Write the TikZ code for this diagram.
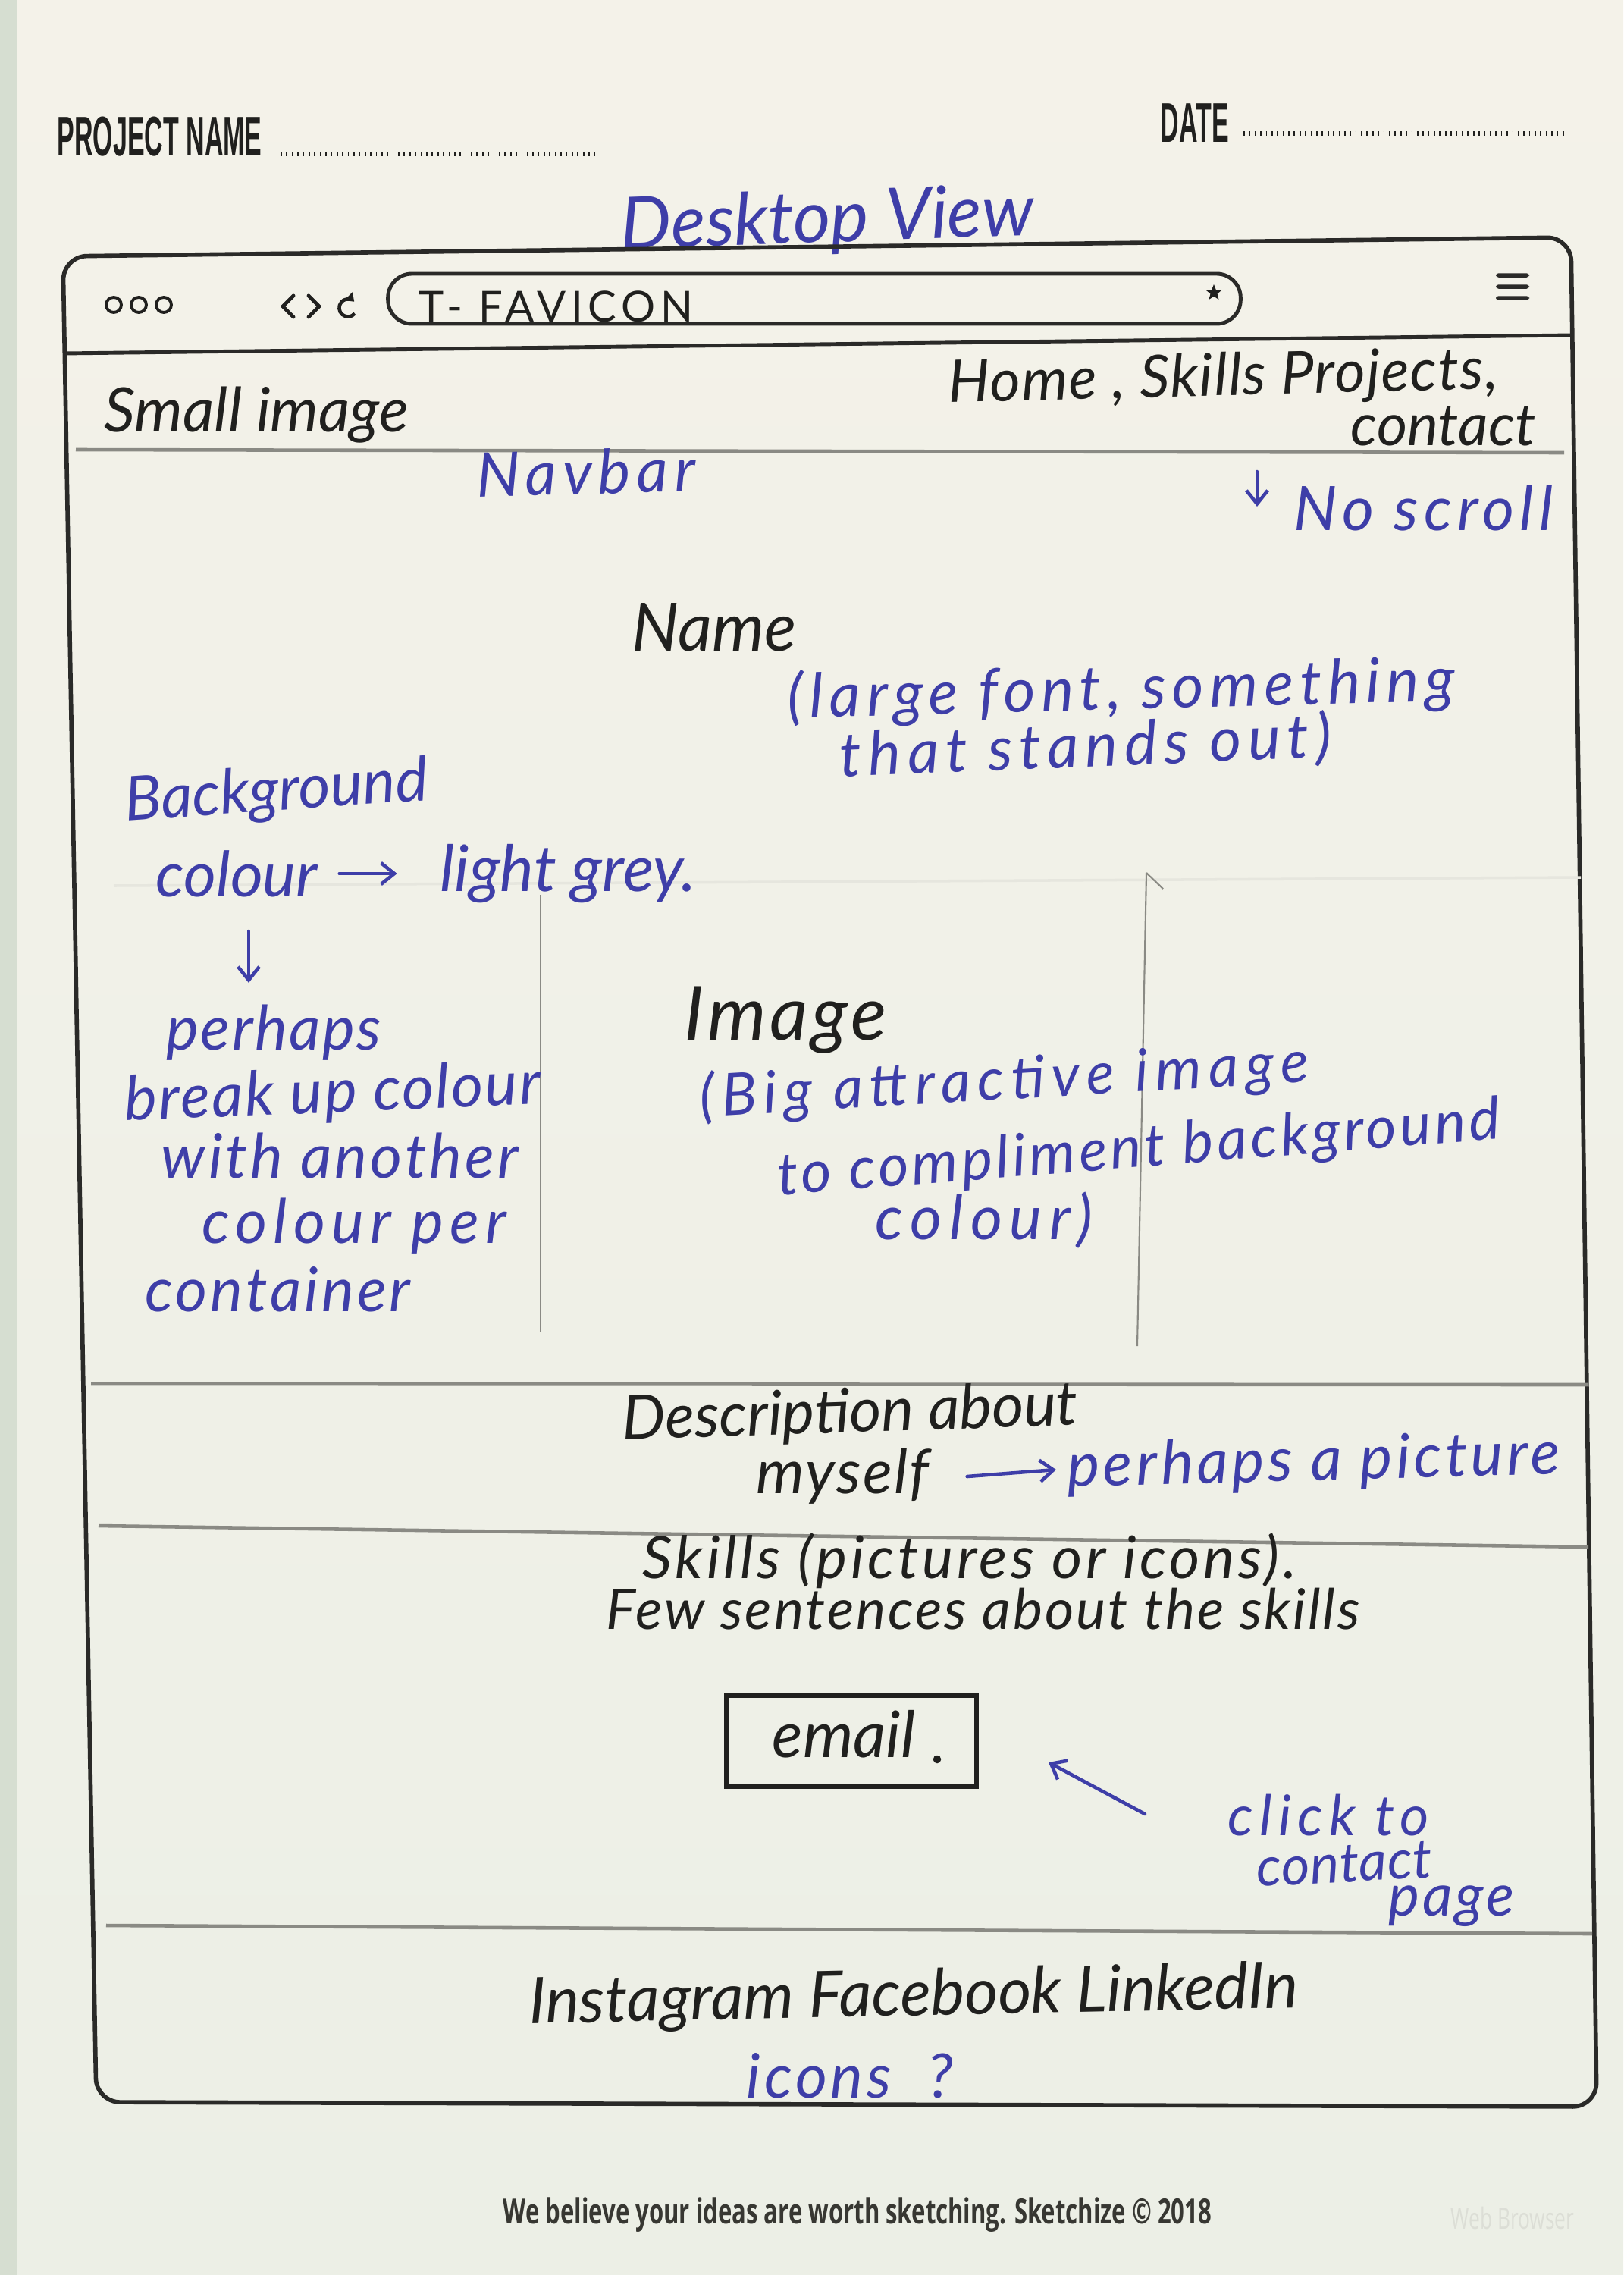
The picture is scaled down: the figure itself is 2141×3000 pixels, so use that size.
\documentclass[tikz,border=0pt]{standalone}
\usepackage{fontspec}
\usetikzlibrary{arrows.meta,shapes.geometric}
\newfontfamily\handfont{Lato}
\newfontfamily\headfont{Liberation Sans}[FakeStretch=0.46]
\newfontfamily\footfont{Open Sans}[FakeStretch=0.68]
% handwriting: size, and size with letter spacing
\newcommand\hwsz[1]{\handfont\itshape\fontsize{#1}{#1}\selectfont}
\newcommand\hwls[2]{\handfont\itshape\fontsize{#1}{#1}\selectfont\addfontfeature{LetterSpace=#2}}
\definecolor{paperTop}{RGB}{244,242,233}
\definecolor{paperBot}{RGB}{236,239,230}
\definecolor{paperEdge}{RGB}{214,222,209}
\definecolor{inkblue}{RGB}{62,62,168}
\definecolor{inkblack}{RGB}{32,32,30}
\definecolor{frameink}{RGB}{42,42,40}
\definecolor{rule}{RGB}{138,138,132}
\definecolor{faint}{RGB}{230,230,222}
\definecolor{footink}{RGB}{55,55,50}
\definecolor{ghost}{RGB}{220,222,214}
\tikzset{
  pen/.style={inner sep=0pt, anchor=west, text=inkblack},
  bluepen/.style={inner sep=0pt, anchor=west, text=inkblue},
  frameline/.style={draw=frameink, line width=1.6pt},
  divider/.style={draw=rule, line width=1.3pt},
  guide/.style={draw=rule, line width=0.6pt},
  bluearrow/.style={draw=inkblue, line width=1.3pt, line cap=round, -{Straight Barb[length=5pt,width=8pt]}},
  dotrule/.style={draw=inkblack, line width=1.6pt, dash pattern=on 0.5pt off 1.6pt},
}
\begin{document}
\begin{tikzpicture}[x=0.01cm, y=-0.01cm]
\useasboundingbox (0,0) rectangle (2141,3000);
% paper
\shade[top color=paperTop, bottom color=paperBot] (0,0) rectangle (2141,3000);
\fill[paperEdge] (0,0) rectangle (22,3000);

% sheet header
\node[inner sep=0pt, anchor=west, text=inkblack, font=\headfont\bfseries\fontsize{21}{21}\selectfont] (projname) at (75,180) {PROJECT NAME};
\coordinate (pn-a) at (370,203);
\coordinate (pn-b) at (786,203);
\draw[dotrule] (pn-a) -- (pn-b);
\node[inner sep=0pt, anchor=west, text=inkblack, font=\headfont\bfseries\fontsize{21}{21}\selectfont] (datelbl) at (1530,162) {DATE};
\coordinate (dt-a) at (1640,176);
\coordinate (dt-b) at (2063,176);
\draw[dotrule] (dt-a) -- (dt-b);

\node[bluepen, font=\hwsz{27}, rotate=2] (title) at (818,302) {Desktop View};

% browser window
\draw[frameline, rounded corners=9pt] (83,338) -- (2072,313) -- (2106,2778) -- (127,2772) -- cycle;
\coordinate (tb-l) at (84,466);
\coordinate (tb-r) at (2072,442);
\draw[frameline, line width=1.4pt] (tb-l) -- (tb-r);

% toolbar
\foreach \cx/\nm in {150/dot1,183/dot2,216/dot3}
  \node[draw=inkblack, line width=1.1pt, circle, minimum size=0.2cm, inner sep=0pt] (\nm) at (\cx,402) {};
\draw[inkblack, line width=1.4pt, line cap=round, line join=round] (387,390) -- (373,404) -- (387,418);
\draw[inkblack, line width=1.4pt, line cap=round, line join=round] (407,390) -- (421,404) -- (407,418);
\draw[inkblack, line width=1.3pt, -{Triangle[length=3pt,width=4pt]}] (459,406) ++(-40:3.3pt) arc[start angle=-40, end angle=-315, radius=3.3pt];
\node[draw=frameink, line width=1.4pt, rounded corners=9pt, minimum width=11.24cm, minimum height=0.66cm, inner sep=0pt] (urlbar) at (1074,394) {};
\node[pen, font=\handfont\fontsize{16}{16}\selectfont\addfontfeature{LetterSpace=12}] (favicon) at (552,404) {T- FAVICON};
\node[star, star points=5, star point ratio=2.3, fill=inkblack, inner sep=0pt, minimum size=0.22cm] (bookmark) at (1601,386) {};
\foreach \yy/\nm in {363/hb1,378/hb2,393/hb3}
  \node[fill=frameink, rounded corners=1pt, minimum width=0.44cm, minimum height=0.055cm, inner sep=0pt] (\nm) at (1995,\yy) {};

% navbar
\node[pen, font=\hwsz{23}] (smallimg) at (137,547) {Small image};
\node[pen, font=\hwls{22}{2}, rotate=1.4] (navlinks) at (1250,509) {Home , Skills Projects,};
\node[pen, font=\hwsz{22}] (navcontact) at (1781,562) {contact};
\coordinate (nav-l) at (100,593);
\coordinate (nav-r) at (2063,597);
\draw[divider] (nav-l) -- (nav-r);
\node[bluepen, font=\hwls{23}{10}, rotate=1.5] (navbar) at (628,626) {Navbar};
\coordinate (ns-top) at (1658,622);
\coordinate (ns-bot) at (1658,668);
\draw[bluearrow] (ns-top) -- (ns-bot);
\node[bluepen, font=\hwls{23}{9}] (noscroll) at (1706,670) {No scroll};

% hero
\node[pen, font=\hwsz{25}] (name) at (833,827) {Name};
\node[bluepen, font=\hwls{23}{10}, rotate=1.5] (largefont) at (1038,923) {(large font, something};
\node[bluepen, font=\hwls{23}{11}, rotate=2.3] (standsout) at (1107,999) {that stands out)};
\node[bluepen, font=\hwsz{23}, rotate=3.9] (bgnote) at (164,1060) {Background};
\coordinate (faint-l) at (150,1168);
\coordinate (faint-r) at (2085,1157);
\draw[faint, line width=1pt] (faint-l) -- (faint-r);
\node[bluepen, font=\hwsz{23.5}] (bgcolour) at (205,1152) {colour};
\node[bluepen, font=\hwsz{24}] (lightgrey) at (580,1152) {light grey.};
\draw[bluearrow] ([xshift=8pt]bgcolour.east) -- ([xshift=-16pt]lightgrey.west);
\coordinate (dn-top) at (328,1228);
\coordinate (dn-bot) at (328,1296);
\draw[bluearrow] (dn-top) -- (dn-bot);

% image column
\coordinate (col1-t) at (713,1180);
\coordinate (col1-b) at (713,1756);
\draw[guide] (col1-t) -- (col1-b);
\coordinate (col2-t) at (1512,1151);
\coordinate (col2-b) at (1500,1775);
\draw[guide] (col2-b) -- (col2-t);
\coordinate (col2-h) at (1534,1172);
\draw[guide] (col2-t) -- (col2-h);

\node[bluepen, font=\hwls{23}{3}] (perhaps) at (219,1362) {perhaps};
\node[bluepen, font=\hwls{23}{3}, rotate=2.3] (breakup) at (164,1455) {break up colour};
\node[bluepen, font=\hwls{23}{5}] (withanother) at (212,1524) {with another};
\node[bluepen, font=\hwls{23}{10}] (colourper) at (266,1617) {colour per};
\node[bluepen, font=\hwls{23}{5}] (container) at (191,1700) {container};
\node[pen, font=\hwls{28}{5}] (image) at (902,1345) {Image};
\node[bluepen, font=\hwls{22}{12}, rotate=3.3] (bigimg) at (922,1450) {(Big attractive image};
\node[bluepen, font=\hwls{22}{6}, rotate=4.5] (compliment) at (1025,1555) {to compliment background};
\node[bluepen, font=\hwls{23}{12}] (imgcolour) at (1154,1609) {colour)};

% about
\coordinate (ab-l) at (120,1825);
\coordinate (ab-r) at (2095,1826);
\draw[divider] (ab-l) -- (ab-r);
\node[pen, font=\hwsz{23}, rotate=1.9] (descr) at (820,1876) {Description about};
\node[pen, font=\hwls{23}{3}] (myself) at (997,1947) {myself};
\node[bluepen, font=\hwls{23}{6}, rotate=1.5] (picture) at (1407,1938) {perhaps a picture};
\draw[bluearrow] ([xshift=14pt]myself.east) -- ([xshift=-4pt]picture.west);

% skills
\coordinate (sk-l) at (130,2012);
\coordinate (sk-r) at (2095,2040);
\draw[divider] (sk-l) -- (sk-r);
\node[pen, font=\hwls{22}{6}] (skills) at (847,2058) {Skills (pictures or icons).};
\node[pen, font=\hwls{21}{4}] (sentences) at (799,2122) {Few sentences about the skills};
\node[draw=inkblack, line width=1.8pt, minimum width=3.3cm, minimum height=1.2cm, inner sep=0pt] (emailbox) at (1123,2296) {};
\node[pen, font=\hwsz{24}] (email) at (1018,2287) {email};
\node[fill=inkblack, circle, inner sep=0pt, minimum size=3pt] (emaildot) at (1236,2320) {};
\coordinate (ck-tail) at (1510,2392);
\coordinate (ck-tip) at (1383,2324);
\draw[bluearrow] (ck-tail) -- (ck-tip);
\node[bluepen, font=\hwls{21}{11}] (clickto) at (1619,2394) {click to};
\node[bluepen, font=\hwls{20.5}{1}, rotate=3] (contactpg) at (1657,2464) {contact};
\node[bluepen, font=\hwls{22}{5}] (page) at (1831,2514) {page};

% footer
\coordinate (ft-l) at (140,2539);
\coordinate (ft-r) at (2100,2550);
\draw[divider] (ft-l) -- (ft-r);
\node[pen, font=\hwsz{24}, rotate=1.2] (social) at (697,2645) {Instagram Facebook LinkedIn};
\node[bluepen, font=\hwls{23}{6}] (icons) at (984,2737) {icons\ \ ?};

% sheet footer
\node[inner sep=0pt, anchor=west, text=footink, font=\footfont\bfseries\fontsize{13}{13}\selectfont] (tagline) at (663,2921) {We believe your ideas are worth sketching. Sketchize © 2018};
\node[inner sep=0pt, anchor=west, text=ghost, font=\footfont\fontsize{11}{11}\selectfont] (sheetkind) at (1913,2925) {Web Browser};
\end{tikzpicture}
\end{document}
